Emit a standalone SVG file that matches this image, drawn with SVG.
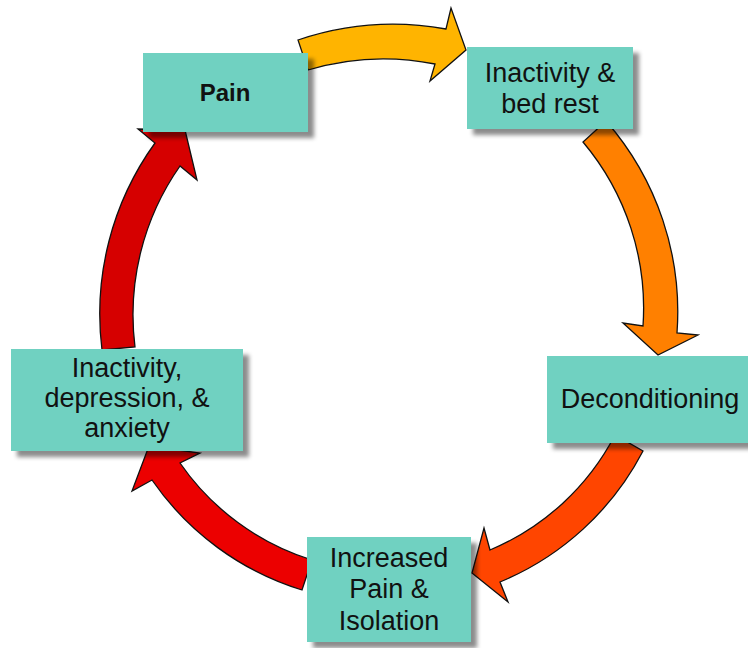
<svg xmlns="http://www.w3.org/2000/svg" width="748" height="648" viewBox="0 0 748 648">
<defs>
<filter id="sh" x="-10%" y="-10%" width="130%" height="140%">
<feDropShadow dx="6" dy="6" stdDeviation="2" flood-color="#000" flood-opacity="0.45"/>
</filter>
<style>
.box{fill:#70D1C1;filter:url(#sh);}
.t{font-family:"Liberation Sans",Arial,sans-serif;font-size:27px;fill:#111;text-anchor:middle;}
.b{font-weight:bold;font-size:24px;}
.arr{stroke:#111;stroke-width:1.3;stroke-linejoin:miter;}
</style>
</defs>
<rect width="748" height="648" fill="#fff"/>
<g id="connectors">
<path id="a1" class="arr" fill="#FFB400" d="M298,40 A297,297 0 0 1 446,29 L451,8 L466,50 L430,81 L435,64 A263,263 0 0 0 308,70 Z"/>
<path id="a2" class="arr" fill="#FF8000" d="M606,121 A290,290 0 0 1 677,333 L698,335 L658,355 L623,323 L643,326 A258,258 0 0 0 583,142 Z"/>
<path id="a3" class="arr" fill="#FF4500" d="M643,451 A283,283 0 0 1 500,582 L508,602 L472,573 L484,528 L490,550 A250,250 0 0 0 615,435 Z"/>
<path id="a4" class="arr" fill="#EC0000" d="M302,590 A284,284 0 0 1 152,480 L132,491 L149,446 L200,453 L180,463 A252,252 0 0 0 312,560 Z"/>
<path id="a5" class="arr" fill="#D60000" d="M102,350 A292,292 0 0 1 155,143 L138,129 L185,130 L197,180 L180,166 A259,259 0 0 0 135,347 Z"/>
</g>
<g id="pain">
<rect class="box" x="143" y="53" width="165" height="79"/>
<text class="t b" x="225" y="101">Pain</text>
</g>
<g id="inactivity-bed-rest">
<rect class="box" x="467" y="47" width="166" height="82"/>
<text class="t" x="550" y="82">Inactivity &amp;</text>
<text class="t" x="550" y="113">bed rest</text>
</g>
<g id="deconditioning">
<rect class="box" x="547" y="356" width="210" height="87"/>
<text class="t" x="650" y="408">Deconditioning</text>
</g>
<g id="increased-pain">
<rect class="box" x="307" y="537" width="164" height="105"/>
<text class="t" x="389" y="567">Increased</text>
<text class="t" x="389" y="598">Pain &amp;</text>
<text class="t" x="389" y="630">Isolation</text>
</g>
<g id="inactivity-depression">
<rect class="box" x="11" y="349" width="232" height="102"/>
<text class="t" x="127" y="377">Inactivity,</text>
<text class="t" x="127" y="407">depression, &amp;</text>
<text class="t" x="127" y="437">anxiety</text>
</g>
</svg>
